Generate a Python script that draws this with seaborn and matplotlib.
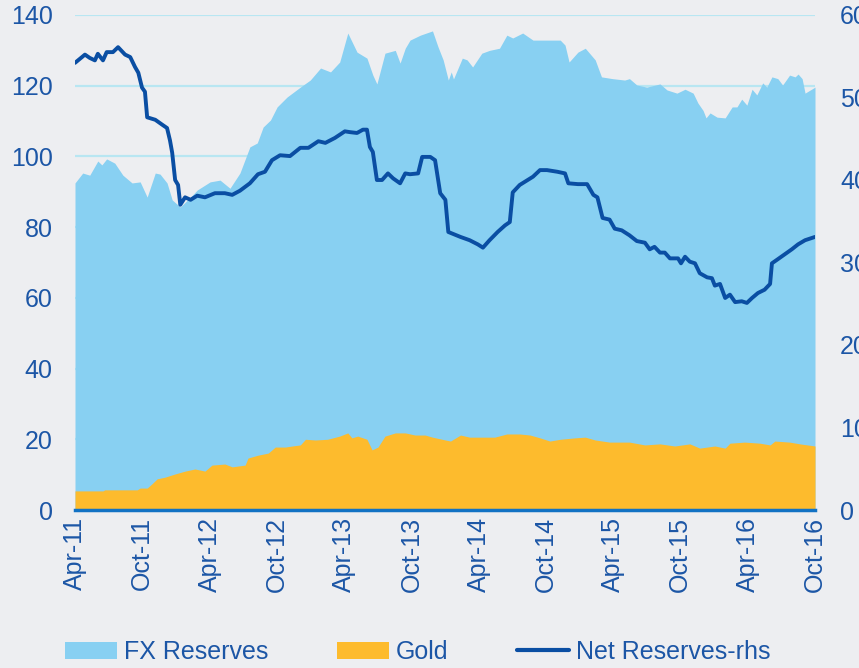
import matplotlib
matplotlib.use("Agg")
import matplotlib.pyplot as plt
from matplotlib.patches import Patch
from matplotlib.lines import Line2D
import pandas as pd
import seaborn as sns

# ---------------- data ----------------
# top edge of the stacked area (Gold + FX Reserves), USD bn, left axis
total_dates = ["2011-04-01", "2011-04-22", "2011-05-11", "2011-06-02", "2011-06-13", "2011-06-26",
               "2011-07-18", "2011-08-09", "2011-09-03", "2011-09-25", "2011-10-14", "2011-11-05",
               "2011-11-18", "2011-12-07", "2011-12-21", "2012-01-12", "2012-02-09", "2012-02-27",
               "2012-04-02", "2012-04-29", "2012-05-26", "2012-06-22", "2012-07-19", "2012-08-08",
               "2012-08-24", "2012-09-13", "2012-10-01", "2012-10-28", "2012-12-03", "2012-12-30",
               "2013-01-27", "2013-02-23", "2013-03-20", "2013-04-11", "2013-05-06", "2013-06-02",
               "2013-06-18", "2013-06-29", "2013-07-21", "2013-08-18", "2013-08-31", "2013-09-14",
               "2013-09-27", "2013-10-25", "2013-11-27", "2013-12-12", "2013-12-26", "2014-01-09",
               "2014-01-17", "2014-01-23", "2014-02-16", "2014-03-01", "2014-03-16", "2014-04-10",
               "2014-05-01", "2014-05-28", "2014-06-17", "2014-07-03", "2014-07-30", "2014-08-27",
               "2014-10-04", "2014-11-09", "2014-11-22", "2014-12-03", "2014-12-27", "2015-01-16",
               "2015-02-12", "2015-03-01", "2015-03-31", "2015-05-03", "2015-05-16", "2015-06-05",
               "2015-07-02", "2015-08-07", "2015-08-26", "2015-09-22", "2015-10-14", "2015-11-05",
               "2015-11-18", "2015-12-02", "2015-12-10", "2015-12-21", "2016-01-09", "2016-01-31",
               "2016-02-19", "2016-03-03", "2016-03-16", "2016-03-30", "2016-04-13", "2016-04-26",
               "2016-05-12", "2016-05-23", "2016-06-06", "2016-06-22", "2016-07-05", "2016-07-24",
               "2016-08-08", "2016-08-16", "2016-08-27", "2016-09-04", "2016-10-01"]
total_values = [92.5, 95.3, 94.7, 98.7, 97.6, 99.3,
                98.1, 94.7, 92.5, 92.8, 88.5, 95.3,
                95.0, 92.5, 87.7, 85.7, 88.5, 90.5,
                92.8, 93.3, 91.0, 95.3, 102.7, 103.8,
                108.3, 110.3, 114.0, 116.8, 119.6, 121.6,
                125.0, 123.9, 126.7, 134.9, 129.5, 127.8,
                123.0, 120.5, 129.2, 130.0, 126.4, 130.6,
                132.9, 134.3, 135.5, 131.0, 127.3, 121.6,
                123.9, 121.9, 127.8, 127.3, 125.3, 129.2,
                130.0, 130.6, 134.3, 133.5, 134.9, 132.9,
                132.9, 132.9, 131.5, 126.7, 129.5, 130.6,
                127.3, 122.5, 122.0, 121.6, 122.0, 120.2,
                119.6, 120.5, 118.8, 117.9, 119.0, 117.9,
                115.1, 113.0, 110.9, 112.3, 111.1, 110.9,
                114.0, 114.0, 116.2, 114.5, 119.0, 117.4,
                120.8, 119.6, 122.5, 122.0, 120.2, 123.0,
                122.5, 123.3, 122.0, 117.9, 119.6]

# Gold, USD bn, left axis
gold_dates = ["2011-04-01", "2011-06-16", "2011-06-21", "2011-09-17", "2011-09-25", "2011-10-14",
              "2011-10-27", "2011-11-10", "2011-12-02", "2011-12-29", "2012-01-25", "2012-02-21",
              "2012-03-19", "2012-04-07", "2012-05-12", "2012-06-01", "2012-07-06", "2012-07-14",
              "2012-08-10", "2012-09-07", "2012-09-26", "2012-10-23", "2012-11-11", "2012-12-03",
              "2012-12-17", "2013-01-13", "2013-02-15", "2013-03-20", "2013-04-11", "2013-04-22",
              "2013-05-08", "2013-06-02", "2013-06-16", "2013-07-02", "2013-07-21", "2013-08-18",
              "2013-09-14", "2013-10-11", "2013-11-07", "2013-11-27", "2014-01-01", "2014-01-15",
              "2014-02-11", "2014-03-08", "2014-04-05", "2014-05-15", "2014-06-17", "2014-07-22",
              "2014-08-19", "2014-09-15", "2014-10-12", "2014-11-09", "2014-12-19", "2015-01-16",
              "2015-02-12", "2015-03-23", "2015-05-16", "2015-06-27", "2015-08-07", "2015-09-16",
              "2015-10-27", "2015-11-23", "2016-01-03", "2016-01-31", "2016-02-13", "2016-03-24",
              "2016-05-04", "2016-06-01", "2016-06-14", "2016-07-24", "2016-08-21", "2016-10-01"]
gold_values = [5.4, 5.4, 5.7, 5.7, 6.2, 6.2,
               7.4, 8.8, 9.3, 10.2, 11.0, 11.6,
               11.0, 12.7, 13.0, 12.2, 12.7, 14.7,
               15.5, 16.1, 17.8, 17.8, 18.1, 18.4,
               20.0, 19.8, 20.0, 20.9, 21.8, 20.4,
               20.9, 20.0, 17.0, 17.8, 20.9, 21.8,
               21.8, 21.2, 21.2, 20.6, 19.8, 19.5,
               21.2, 20.6, 20.6, 20.6, 21.5, 21.5,
               21.2, 20.4, 19.5, 20.0, 20.4, 20.6,
               19.8, 19.2, 19.2, 18.4, 18.7, 18.1,
               18.7, 17.5, 18.1, 17.5, 18.9, 19.2,
               18.9, 18.4, 19.5, 19.2, 18.7, 18.1]

# Net Reserves, USD bn, right axis
net_dates = ["2011-04-01", "2011-04-20", "2011-04-28", "2011-05-11", "2011-05-25", "2011-06-02",
             "2011-06-16", "2011-06-26", "2011-07-13", "2011-07-27", "2011-08-15", "2011-08-29",
             "2011-09-11", "2011-09-20", "2011-09-30", "2011-10-08", "2011-10-14", "2011-11-05",
             "2011-11-24", "2011-12-07", "2011-12-15", "2011-12-21", "2011-12-29", "2012-01-06",
             "2012-01-12", "2012-01-25", "2012-02-09", "2012-02-27", "2012-03-19", "2012-04-15",
             "2012-05-12", "2012-06-01", "2012-06-22", "2012-07-19", "2012-08-10", "2012-08-29",
             "2012-09-17", "2012-10-09", "2012-11-05", "2012-12-03", "2012-12-25", "2013-01-21",
             "2013-02-09", "2013-03-07", "2013-04-03", "2013-04-17", "2013-05-06", "2013-05-22",
             "2013-06-02", "2013-06-10", "2013-06-18", "2013-06-29", "2013-07-13", "2013-07-29",
             "2013-08-12", "2013-08-31", "2013-09-14", "2013-09-27", "2013-10-19", "2013-10-30",
             "2013-11-21", "2013-12-04", "2013-12-18", "2014-01-01", "2014-01-09", "2014-02-11",
             "2014-03-08", "2014-03-30", "2014-04-13", "2014-05-01", "2014-05-23", "2014-06-12",
             "2014-06-25", "2014-07-03", "2014-07-22", "2014-08-27", "2014-09-15", "2014-10-04",
             "2014-11-01", "2014-11-22", "2014-12-01", "2014-12-27", "2015-01-21", "2015-02-07",
             "2015-02-18", "2015-03-04", "2015-03-23", "2015-04-06", "2015-04-25", "2015-05-16",
             "2015-06-05", "2015-06-27", "2015-07-10", "2015-07-23", "2015-08-07", "2015-08-20",
             "2015-09-03", "2015-09-25", "2015-10-03", "2015-10-14", "2015-10-27", "2015-11-10",
             "2015-11-23", "2015-12-13", "2015-12-26", "2016-01-03", "2016-01-17", "2016-01-31",
             "2016-02-13", "2016-02-27", "2016-03-16", "2016-03-30", "2016-04-13", "2016-04-29",
             "2016-05-17", "2016-06-01", "2016-06-06", "2016-06-22", "2016-07-11", "2016-07-30",
             "2016-08-16", "2016-09-04", "2016-10-01"]
net_values = [54.2, 54.9, 55.2, 54.8, 54.5, 55.3,
              54.5, 55.5, 55.5, 56.1, 55.2, 54.9,
              53.7, 53.0, 51.2, 50.7, 47.6, 47.3,
              46.7, 46.3, 44.8, 43.3, 40.0, 39.4,
              37.0, 37.9, 37.6, 38.1, 37.9, 38.4,
              38.4, 38.2, 38.7, 39.6, 40.7, 41.0,
              42.4, 43.0, 42.9, 43.9, 43.9, 44.7,
              44.5, 45.1, 45.9, 45.8, 45.7, 46.1,
              46.1, 44.0, 43.4, 40.0, 40.0, 40.8,
              40.2, 39.6, 40.8, 40.7, 40.8, 42.8,
              42.8, 42.4, 38.4, 37.6, 33.7, 33.1,
              32.7, 32.2, 31.8, 32.7, 33.7, 34.5,
              34.9, 38.5, 39.4, 40.4, 41.2, 41.2,
              41.0, 40.8, 39.6, 39.5, 39.5, 38.2,
              37.9, 35.4, 35.2, 34.1, 33.9, 33.3,
              32.6, 32.4, 31.6, 31.9, 31.2, 31.2,
              30.5, 30.5, 29.9, 30.7, 30.1, 29.9,
              28.7, 28.2, 28.1, 27.2, 27.4, 25.7,
              26.1, 25.2, 25.3, 25.1, 25.7, 26.3,
              26.7, 27.4, 29.9, 30.4, 31.0, 31.6,
              32.2, 32.7, 33.1]

tick_dates = ["2011-04-01", "2011-10-01", "2012-04-01", "2012-10-01", "2013-04-01", "2013-10-01",
              "2014-04-01", "2014-10-01", "2015-04-01", "2015-10-01", "2016-04-01", "2016-10-01"]
tick_labels = ["Apr-11", "Oct-11", "Apr-12", "Oct-12", "Apr-13", "Oct-13",
               "Apr-14", "Oct-14", "Apr-15", "Oct-15", "Apr-16", "Oct-16"]
left_ticks = [0, 20, 40, 60, 80, 100, 120, 140]
right_ticks = [0, 10, 20, 30, 40, 50, 60]
series_names = ["FX Reserves", "Gold", "Net Reserves-rhs"]

# ---------------- style ----------------
BG = "#EDEEF1"
FX_C = "#88D0F2"
GOLD_C = "#FDBB2D"
LINE_C = "#0A4EA3"
TEXT_C = "#1C56A6"
GRID_C = "#B8E6F2"
AXIS_C = "#1272C4"

sns.set_theme(style="white", rc={"axes.facecolor": BG, "figure.facecolor": BG})
plt.rcParams["font.family"] = ["Liberation Sans", "DejaVu Sans"]

fig = plt.figure(figsize=(8.59, 6.68), dpi=100)
ax = fig.add_axes([75 / 859, 1 - 510 / 668, 740 / 859, 495 / 668])
ax.set_facecolor(BG)

td = pd.to_datetime(total_dates)
gd = pd.to_datetime(gold_dates)
nd = pd.to_datetime(net_dates)

ax.fill_between(td, 0, total_values, color=FX_C, lw=0, zorder=2)
ax.fill_between(gd, 0, gold_values, color=GOLD_C, lw=0, zorder=3)

ax.set_ylim(0, 140)
ax.set_yticks(left_ticks)
ax.yaxis.grid(True, color=GRID_C, lw=1.6)
ax.xaxis.grid(False)
ax.set_axisbelow(True)
ax.set_xlim(pd.Timestamp(tick_dates[0]), pd.Timestamp(tick_dates[-1]))
ax.set_xticks(pd.to_datetime(tick_dates))
ax.set_xticklabels(tick_labels, rotation=90)
ax.tick_params(axis="both", length=0, labelsize=18, colors=TEXT_C)
ax.tick_params(axis="y", pad=16)
ax.tick_params(axis="x", pad=5)
for s in ["top", "right", "left"]:
    ax.spines[s].set_visible(False)
ax.spines["bottom"].set_color(AXIS_C)
ax.spines["bottom"].set_linewidth(2.5)
ax.spines["bottom"].set_zorder(5)

ax2 = ax.twinx()
net_df = pd.DataFrame({"date": nd, "net": net_values})
sns.lineplot(data=net_df, x="date", y="net", ax=ax2, color=LINE_C, lw=2.8, zorder=6)
ax2.set_ylim(0, 60)
ax2.set_yticks(right_ticks)
ax2.set_xlim(pd.Timestamp(tick_dates[0]), pd.Timestamp(tick_dates[-1]))
ax2.set_ylabel("")
ax2.set_xlabel("")
ax.set_xlabel("")
ax2.tick_params(axis="y", length=0, labelsize=18, colors=TEXT_C, pad=18)
for s in ["top", "right", "left", "bottom"]:
    ax2.spines[s].set_visible(False)
ax2.grid(False)

handles = [Patch(facecolor=FX_C, edgecolor="none"),
           Patch(facecolor=GOLD_C, edgecolor="none"),
           Line2D([0], [0], color=LINE_C, lw=3)]
leg = fig.legend(handles, series_names, loc="center", bbox_to_anchor=(0.486, 1 - 652 / 668),
                 ncol=3, frameon=False, fontsize=18, handlelength=2.1, handleheight=0.7,
                 handletextpad=0.25, columnspacing=2.75, labelcolor=TEXT_C)

fig.savefig("out.png", dpi=100, facecolor=BG)
